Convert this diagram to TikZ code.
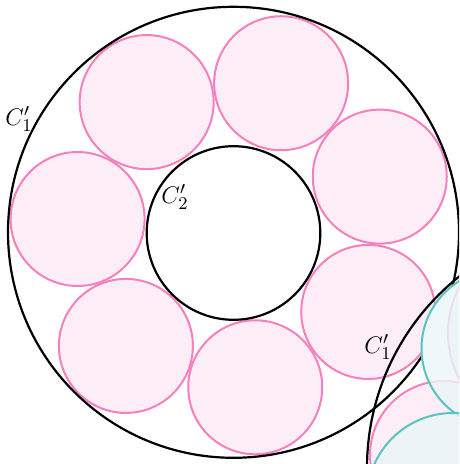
\documentclass[tikz,border=0pt]{standalone}
\usetikzlibrary{calc}
\definecolor{pinkS}{RGB}{246,128,190}
\definecolor{pinkF}{RGB}{252,237,246}
\definecolor{tealS}{RGB}{92,194,193}
\definecolor{tealF}{RGB}{234,246,249}
\begin{document}
\begin{tikzpicture}[x=0.5pt,y=-0.5pt,
  pinkc/.style={draw=pinkS, fill=pinkF, line width=1pt},
  tealc/.style={draw=tealS, fill=tealF, fill opacity=0.8, line width=1pt},
  bigc/.style={draw=black, line width=1.1pt},
  lbl/.style={font=\fontsize{13}{15}\selectfont, inner sep=0pt}]
\useasboundingbox (0,0) rectangle (459,464);
\clip (0,0) rectangle (459,464);
% ---- first chain ----
\coordinate (o1) at (233.5,232.3);
\coordinate (o2) at (233.5,233);
\foreach \k in {0,...,6}{
  \pgfmathsetmacro\a{-(123.7-51.4286*\k)}
  \coordinate (p\k) at ($(o1)+(\a:156.5)$);
  \draw[pinkc] (p\k) circle (67);
}
\draw[bigc] (o1) circle (225.5);
\draw[bigc] (o2) circle (86.8);
\node[lbl] (l1) at (19,119) {$C'_1$};
\node[lbl] (l2) at (175,197) {$C'_2$};
% ---- second chain ----
\coordinate (q0) at (612,468);
\coordinate (t1) at (500.5,348.5);
\coordinate (t2) at (453,499);
\coordinate (s1) at (548,333);
\coordinate (s2) at (444,455);
\fill[white] (t1) circle (79) (t2) circle (86);
\draw[pinkc] (s1) circle (100);
\draw[pinkc] (s2) circle (74);
\draw[tealc] (t1) circle (79);
\draw[tealc] (t2) circle (86);
\draw[bigc] (q0) circle (245);
\node[lbl] (l3) at (378,347) {$C'_1$};
\end{tikzpicture}
\end{document}
